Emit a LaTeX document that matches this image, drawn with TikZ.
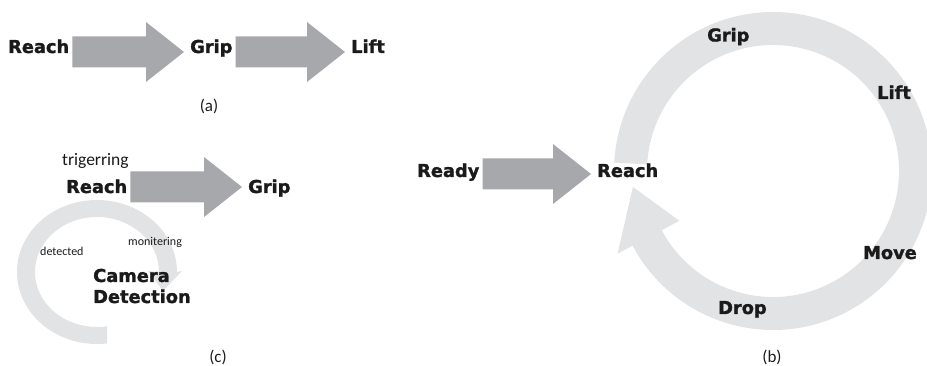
\documentclass[tikz,border=0pt]{standalone}
\usepackage{fontspec}
\setmainfont{Carlito}
\newfontfamily\heavy{DejaVu Sans Bold}[FakeBold=1.4]
\usetikzlibrary{calc}
\definecolor{arrowgray}{HTML}{A7A8AB}
\definecolor{ringgray}{HTML}{E2E3E5}
\definecolor{ink}{HTML}{1A1A1A}
\begin{document}
\begin{tikzpicture}[x=1pt,y=1pt,
  stagelabel/.style={anchor=base west, inner sep=0pt, text=ink, align=left,
    font=\heavy\fontsize{17.8}{21}\selectfont},
  note/.style={anchor=base west, inner sep=0pt, text=ink,
    font=\fontsize{17.5}{20}\selectfont},
  smallnote/.style={anchor=base west, inner sep=0pt, text=ink,
    font=\fontsize{12}{14}\selectfont},
  caption/.style={inner sep=0pt, text=ink, font=\fontsize{17}{20}\selectfont},
  % block arrow between two labels, centred on the given height
  blockarrow/.style={fill=arrowgray, to path={
    let \p1=(\tikztostart.east), \p2=(\tikztotarget.west) in
    (\x1+3pt,#1pt+15.5pt) -- (\x2-44pt,#1pt+15.5pt) -- (\x2-44pt,#1pt+30pt)
    -- (\x2-6pt,#1pt) -- (\x2-44pt,#1pt-30pt) -- (\x2-44pt,#1pt-15.5pt)
    -- (\x1+3pt,#1pt-15.5pt) -- cycle}}]
\useasboundingbox (0,0) rectangle (927,-366);

% ---------- (a) linear sequence ----------
\node[stagelabel] (ra) at (8,-53) {Reach};
\node[stagelabel] (ga) at (190,-53) {Grip};
\node[stagelabel] (la) at (351,-53) {Lift};
\path[blockarrow=-52] (ra) to (ga);
\path[blockarrow=-52] (ga) to (la);
\node[caption] (capa) at (209,-106) {(a)};

% ---------- (c) triggered detection loop ----------
\fill[ringgray, shift={(97,-272)}]
  (-82.8:80 and 72) arc[start angle=-82.8, end angle=-360, x radius=80, y radius=72]
  -- (85,1) -- (66,-19) -- (51,1) -- (62,0)
  arc[start angle=-360, end angle=-80.7, x radius=62, y radius=55] -- cycle;
\node[note] (trig) at (62,-166) {trigerring};
\node[stagelabel] (rc) at (66,-193) {Reach};
\node[stagelabel] (gc) at (248,-193) {Grip};
\path[blockarrow=-187] (rc) to (gc);
\node[smallnote] (mon) at (128,-246) {monitering};
\node[smallnote] (dtc) at (40,-256) {detected};
\node[stagelabel] (cam) at (93,-303) {Camera\\Detection};
\node[caption] (capc) at (218,-357.5) {(c)};

% ---------- (b) cyclic task ----------
\fill[ringgray, shift={(773,-171)}]
  (177:159) arc[start angle=177, end angle=-152, radius=159]
  -- (-152:176) -- (-173.5:141) -- (-152:106) -- (-152:126)
  arc[start angle=-152, end angle=177, radius=126] -- cycle;
\node[stagelabel] (rdy) at (417,-177) {Ready};
\node[stagelabel] (rb) at (597,-177) {Reach};
\path[blockarrow=-174] (rdy) to (rb);
\node[stagelabel] (gb) at (707,-41.5) {Grip};
\node[stagelabel] (lb) at (877,-99) {Lift};
\node[stagelabel] (mb) at (863,-259) {Move};
\node[stagelabel] (db) at (718,-314) {Drop};
\node[caption] (capb) at (772,-357.5) {(b)};
\end{tikzpicture}
\end{document}
